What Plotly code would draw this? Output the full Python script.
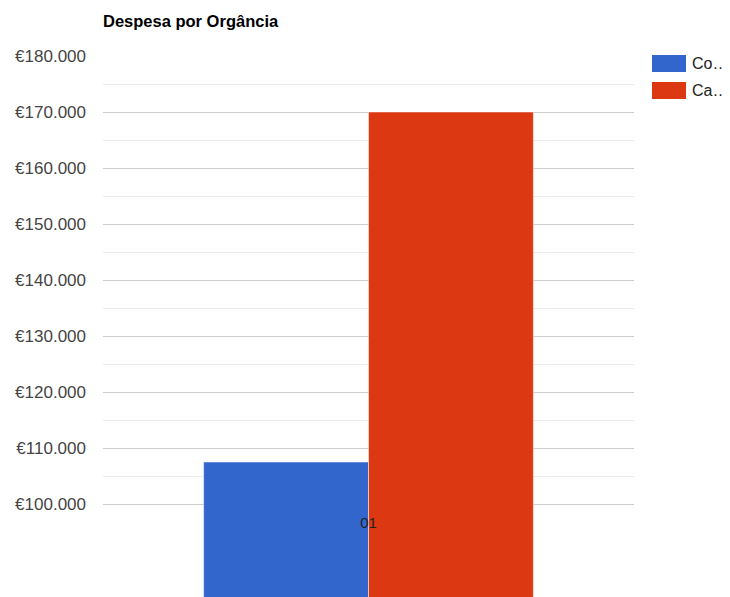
import plotly.graph_objects as go

categories = ["01"]
series_names = ["Co\u2026", "Ca\u2026"]
series_values = [[107500], [170000]]
series_colors = ["#3366CC", "#DC3912"]
major_ticks = [100000, 110000, 120000, 130000, 140000, 150000, 160000, 170000, 180000]
minor_ticks = [105000, 115000, 125000, 135000, 145000, 155000, 165000, 175000]
tick_labels = ["\u20ac" + f"{v:,}".replace(",", ".") for v in major_ticks]
y_min, y_max = 83393, 180000

# page body offsets the figure by 8px
OFF = 8
W, H = 730 - OFF, 597 - OFF
L, R, T, B = 103 - OFF, 96, 56 - OFF, 0
plot_h = H - T - B
plot_w = W - L - R

fig = go.Figure()
for name, vals, col in zip(series_names, series_values, series_colors):
    fig.add_trace(go.Bar(x=categories, y=vals, name=name, marker_color=col,
                         marker_line_width=0.5, marker_line_color="white",
                         showlegend=False))

def py(pix):
    return (H - B - (pix - OFF)) / plot_h

def px(pix):
    return (pix - OFF - L) / plot_w

shapes = []
annotations = []
legend_top = [55, 82]
for i, (name, col) in enumerate(zip(series_names, series_colors)):
    y0 = legend_top[i]
    shapes.append(dict(type="rect", xref="paper", yref="paper",
                       x0=px(652), x1=px(686),
                       y0=py(y0 + 17), y1=py(y0), fillcolor=col, line_width=0))
    annotations.append(dict(text=name, xref="paper", yref="paper",
                            x=px(690), y=py(y0 + 8.5),
                            xanchor="left", yanchor="middle", showarrow=False,
                            font=dict(family="Arial, Liberation Sans", size=16, color="#222222")))

fig.update_layout(
    width=W, height=H,
    margin=dict(l=L, r=R, t=T, b=B, pad=0),
    plot_bgcolor="white", paper_bgcolor="white",
    barmode="group", bargap=0.379, bargroupgap=0,
    font=dict(family="Arial, Liberation Sans", size=17, color="#444444"),
    title=dict(text="<b>Despesa por Orgância</b>", x=(103 - OFF) / W, xanchor="left",
               y=1 - (21 - OFF) / H, yanchor="middle",
               font=dict(size=16.5, color="#000000")),
    shapes=shapes, annotations=annotations,
    xaxis=dict(type="category", anchor="free", position=py(512),
               showgrid=False, showline=False, zeroline=False, ticks="",
               tickfont=dict(size=15, color="#222222")),
    yaxis=dict(range=[y_min, y_max], tickmode="array", tickvals=major_ticks,
               ticktext=tick_labels, showgrid=True, gridcolor="#cccccc", gridwidth=1,
               zeroline=False, showline=False, ticks="", ticklabelstandoff=16,
               tickfont=dict(size=17, color="#444444"),
               minor=dict(tickvals=minor_ticks, showgrid=True,
                          gridcolor="#ebebeb", gridwidth=1, ticks="")),
)

fig.write_html("out.html")
